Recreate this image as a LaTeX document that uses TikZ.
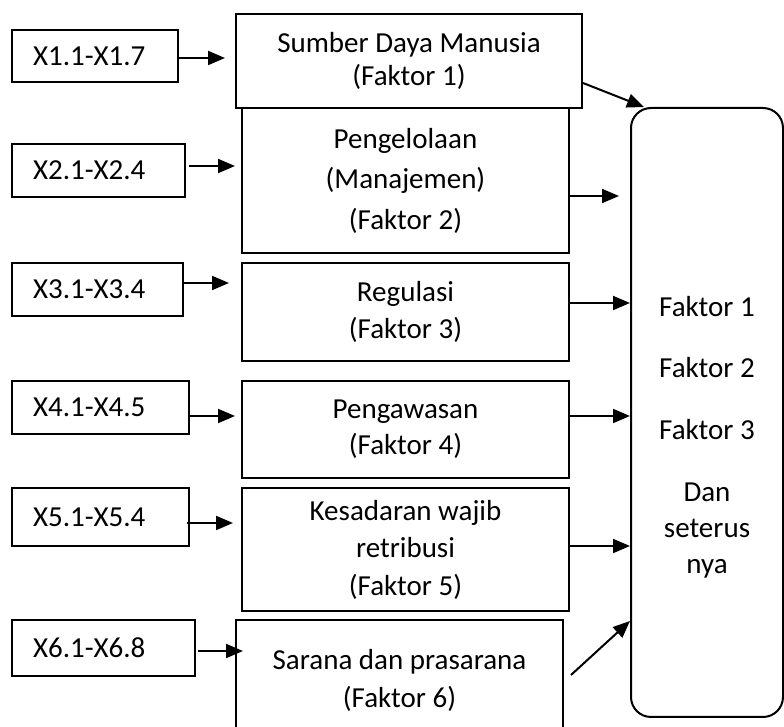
\documentclass[tikz,border=0pt]{standalone}
\usepackage{fontspec}
\setmainfont{Carlito}
\usetikzlibrary{arrows.meta}
\begin{document}
\begin{tikzpicture}[x=0.5pt,y=-0.5pt,
  every node/.style={font=\fontsize{14.5pt}{17.5pt}\selectfont},
  xbox/.style={draw, line width=1pt, inner sep=0pt, inner xsep=10.5pt, align=left, minimum height=#1},
  fbox/.style={draw, line width=1pt, inner sep=0pt, align=center},
  arr/.style={line width=1pt, -{Triangle[length=8.5pt,width=7pt]}}]
\useasboundingbox (0,0) rectangle (784,727);

% left indicator boxes
\node[xbox=26pt, text width=62pt] (x1) at (95,56) {X1.1-X1.7};
\node[xbox=26.5pt, text width=65.5pt] (x2) at (98.5,170.5) {X2.1-X2.4};
\node[xbox=26.5pt, text width=64.5pt] (x3) at (97.5,289.5) {X3.1-X3.4};
\node[xbox=26.5pt, text width=67.5pt] (x4) at (100.5,407.5) {X4.1-X4.5};
\node[xbox=29pt, text width=67.5pt] (x5) at (100.5,517) {X5.1-X5.4};
\node[xbox=28pt, text width=70.5pt] (x6) at (103.5,648) {X6.1-X6.8};

% factor boxes
\node[fbox, minimum width=173pt, minimum height=47pt, font=\fontsize{14.5pt}{16.5pt}\selectfont] (f1) at (409,61) {Sumber Daya Manusia\\(Faktor 1)};
\node[fbox, minimum width=163.5pt, minimum height=72.5pt, font=\fontsize{14.5pt}{20.25pt}\selectfont] (f2) at (405.5,180.5) {Pengelolaan\\(Manajemen)\\(Faktor 2)};
\node[fbox, minimum width=163.5pt, minimum height=49pt, font=\fontsize{14.5pt}{18.5pt}\selectfont] (f3) at (405.5,312) {Regulasi\\(Faktor 3)};
\node[fbox, minimum width=163.5pt, minimum height=48.5pt, font=\fontsize{14.5pt}{18pt}\selectfont] (f4) at (405.5,429.5) {Pengawasan\\(Faktor 4)};
\node[fbox, minimum width=163.5pt, minimum height=61.5pt, font=\fontsize{14.5pt}{18.75pt}\selectfont] (f5) at (405.5,549.5) {Kesadaran wajib\\retribusi\\(Faktor 5)};
\node[fbox, minimum width=163.5pt, minimum height=60pt, font=\fontsize{14.5pt}{19pt}\selectfont] (f6) at (399.5,680) {Sarana dan prasarana\\(Faktor 6)};

% result box
\node[draw, line width=1pt, rounded corners=10pt, minimum width=76pt, minimum height=304.5pt] (big) at (707,412.5) {};
\node (t1) at (707,307) {Faktor 1};
\node (t2) at (707,368) {Faktor 2};
\node (t3) at (707,430) {Faktor 3};
\node[align=center, font=\fontsize{14.5pt}{18pt}\selectfont] (t4) at (707,531) {Dan\\seterus\\nya};

% left arrows
\path ([yshift=-1pt]x1.east) coordinate (a1)
      ([yshift=2.25pt]x2.east) coordinate (a2)
      ([yshift=3.25pt]x3.east) coordinate (a3)
      ([yshift=-4.25pt]x4.east) coordinate (a4)
      ([yshift=-3pt]x5.east) coordinate (a5)
      ([yshift=-1.5pt]x6.east) coordinate (a6);
\draw[arr, shorten >=5pt] (a1) -- (a1 -| f1.west);
\draw[arr, shorten <=1.5pt, shorten >=3pt] (a2) -- (a2 -| f2.west);
\draw[arr, shorten >=6pt] (a3) -- (a3 -| f3.west);
\draw[arr, shorten >=3pt] (a4) -- (a4 -| f4.west);
\draw[arr, shorten <=-1.5pt, shorten >=4pt] (a5) -- (a5 -| f5.west);
\draw[arr, shorten <=1pt, shorten >=-4pt] (a6) -- (a6 -| f6.west);

% right arrows
\path ([yshift=-11pt]f1.east) coordinate (b1)
      ([yshift=-7.75pt]f2.east) coordinate (b2)
      ([yshift=4.5pt]f3.east) coordinate (b3)
      ([yshift=6.75pt]f4.east) coordinate (b4)
      ([yshift=1.75pt]f5.east) coordinate (b5)
      ([xshift=3.5pt,yshift=2.5pt]f6.east) coordinate (b6)
      ([xshift=7pt]big.north west) coordinate (e1)
      (big.west |- 0,621) coordinate (e6);
\draw[arr] (b1) -- (e1);
\draw[arr, shorten >=5.5pt] (b2) -- (b2 -| big.west);
\draw[arr] (b3) -- (b3 -| big.west);
\draw[arr] (b4) -- (b4 -| big.west);
\draw[arr] (b5) -- (b5 -| big.west);
\draw[arr] (b6) -- (e6);
\end{tikzpicture}
\end{document}
